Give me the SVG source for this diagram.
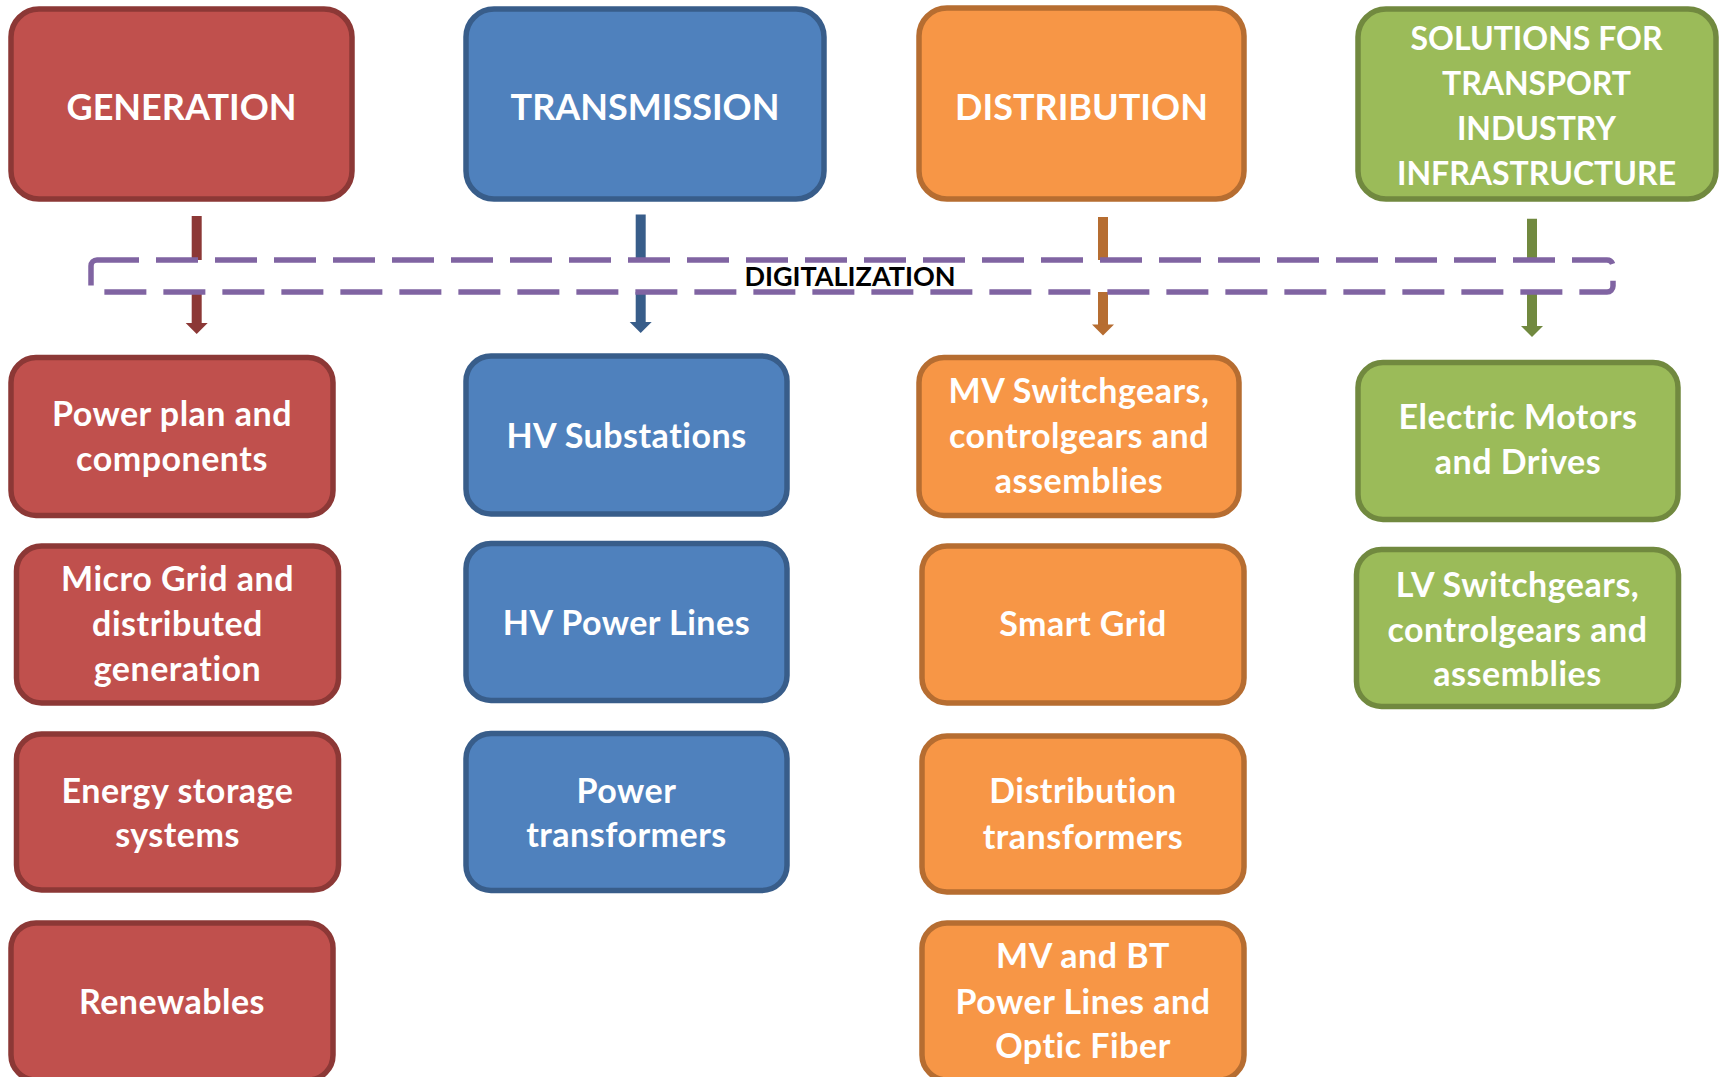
<svg xmlns="http://www.w3.org/2000/svg" width="1721" height="1077" viewBox="0 0 1721 1077">
<style>
.box{stroke-width:5.5}
.red{fill:#C0504D;stroke:#8C3836}
.blue{fill:#4F81BD;stroke:#385D8A}
.orange{fill:#F79646;stroke:#B66D31}
.green{fill:#9BBB59;stroke:#71893F}
.t{font-family:Lato,"Open Sans","Liberation Sans",sans-serif;font-weight:bold;fill:#FFFFFF;text-anchor:middle}
.title{font-size:36px}
.sol{font-size:32px}
.sub{font-size:34px;letter-spacing:0.5px}
.conn{stroke-width:10;fill:none}
.digi{fill:#FFFFFF;stroke:#8064A2;stroke-width:5.5;stroke-dasharray:42 17}
.dlabel{font-family:Lato,"Open Sans","Liberation Sans",sans-serif;font-weight:bold;font-size:27px;fill:#000000;text-anchor:middle}
</style>
<rect x="0" y="0" width="1721" height="1077" fill="#FFFFFF"/>

<g id="connectors">
  <g id="arrow-generation">
    <line class="conn" x1="196.7" y1="216" x2="196.7" y2="324" stroke="#8C3836"/>
    <polygon points="185.7,323 207.7,323 196.7,334" fill="#8C3836"/>
  </g>
  <g id="arrow-transmission">
    <line class="conn" x1="640.7" y1="214.5" x2="640.7" y2="323" stroke="#385D8A"/>
    <polygon points="629.7,322 651.7,322 640.7,333" fill="#385D8A"/>
  </g>
  <g id="arrow-distribution">
    <line class="conn" x1="1103" y1="217" x2="1103" y2="325" stroke="#B66D31"/>
    <polygon points="1092,324.6 1114,324.6 1103,335.6" fill="#B66D31"/>
  </g>
  <g id="arrow-solutions">
    <line class="conn" x1="1532" y1="218.7" x2="1532" y2="327" stroke="#71893F"/>
    <polygon points="1521,326 1543,326 1532,337" fill="#71893F"/>
  </g>
</g>

<g id="digitalization">
  <rect class="digi" x="91" y="260" width="1522" height="32" rx="6"/>
  <text class="dlabel" x="850" y="286">DIGITALIZATION</text>
</g>

<g id="generation">
  <rect class="box red" x="11" y="9" width="341" height="190" rx="28"/>
  <text class="t title" x="181.5" y="119.5">GENERATION</text>
</g>
<g id="transmission">
  <rect class="box blue" x="466" y="9" width="358" height="190" rx="28"/>
  <text class="t title" x="645" y="119.5">TRANSMISSION</text>
</g>
<g id="distribution">
  <rect class="box orange" x="919" y="8" width="325" height="191" rx="28"/>
  <text class="t title" x="1081.5" y="119.5">DISTRIBUTION</text>
</g>
<g id="solutions">
  <rect class="box green" x="1358" y="9" width="358" height="190" rx="28"/>
  <text class="t sol"><tspan x="1536.5" y="50">SOLUTIONS FOR</tspan><tspan x="1536.5" y="95">TRANSPORT</tspan><tspan x="1536.5" y="140">INDUSTRY</tspan><tspan x="1536.5" y="185">INFRASTRUCTURE</tspan></text>
</g>

<g id="power-plan">
  <rect class="box red" x="11" y="357.5" width="322" height="158" rx="25"/>
  <text class="t sub"><tspan x="172" y="426">Power plan and</tspan><tspan x="172" y="471">components</tspan></text>
</g>
<g id="micro-grid">
  <rect class="box red" x="16.5" y="546" width="322" height="157" rx="25"/>
  <text class="t sub"><tspan x="177.5" y="591">Micro Grid and</tspan><tspan x="177.5" y="636">distributed</tspan><tspan x="177.5" y="681">generation</tspan></text>
</g>
<g id="energy-storage">
  <rect class="box red" x="16.5" y="734" width="322" height="156" rx="25"/>
  <text class="t sub"><tspan x="177.5" y="803">Energy storage</tspan><tspan x="177.5" y="847">systems</tspan></text>
</g>
<g id="renewables">
  <rect class="box red" x="11" y="923" width="322" height="157" rx="25"/>
  <text class="t sub" x="172" y="1014">Renewables</text>
</g>

<g id="hv-substations">
  <rect class="box blue" x="466" y="356" width="321" height="158" rx="25"/>
  <text class="t sub" x="626.5" y="448">HV Substations</text>
</g>
<g id="hv-power-lines">
  <rect class="box blue" x="466" y="543.5" width="321" height="157" rx="25"/>
  <text class="t sub" x="626.5" y="634.5">HV Power Lines</text>
</g>
<g id="power-transformers">
  <rect class="box blue" x="466" y="733.5" width="321" height="157" rx="25"/>
  <text class="t sub"><tspan x="626.5" y="803">Power</tspan><tspan x="626.5" y="847">transformers</tspan></text>
</g>

<g id="mv-switchgears">
  <rect class="box orange" x="919" y="357.5" width="320" height="158" rx="25"/>
  <text class="t sub"><tspan x="1079" y="403">MV Switchgears,</tspan><tspan x="1079" y="448">controlgears and</tspan><tspan x="1079" y="493">assemblies</tspan></text>
</g>
<g id="smart-grid">
  <rect class="box orange" x="922" y="546" width="322" height="157" rx="25"/>
  <text class="t sub" x="1083" y="636">Smart Grid</text>
</g>
<g id="distribution-transformers">
  <rect class="box orange" x="922" y="736" width="322" height="156" rx="25"/>
  <text class="t sub"><tspan x="1083" y="803">Distribution</tspan><tspan x="1083" y="848.5">transformers</tspan></text>
</g>
<g id="mv-bt-lines">
  <rect class="box orange" x="922" y="923" width="322" height="157" rx="25"/>
  <text class="t sub"><tspan x="1083" y="968">MV and BT</tspan><tspan x="1083" y="1013.5">Power Lines and</tspan><tspan x="1083" y="1058">Optic Fiber</tspan></text>
</g>

<g id="electric-motors">
  <rect class="box green" x="1358" y="362.5" width="320" height="157" rx="25"/>
  <text class="t sub"><tspan x="1518" y="429">Electric Motors</tspan><tspan x="1518" y="474">and Drives</tspan></text>
</g>
<g id="lv-switchgears">
  <rect class="box green" x="1356.5" y="549.5" width="322" height="157" rx="25"/>
  <text class="t sub"><tspan x="1517.5" y="597">LV Switchgears,</tspan><tspan x="1517.5" y="642">controlgears and</tspan><tspan x="1517.5" y="686">assemblies</tspan></text>
</g>
</svg>
